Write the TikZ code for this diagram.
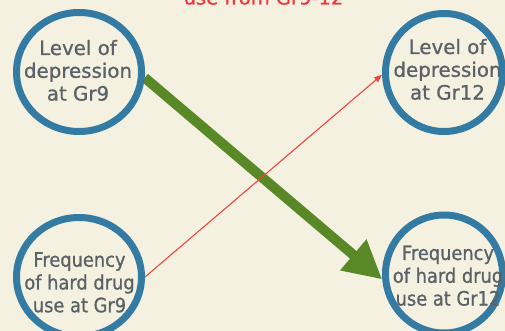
\documentclass[tikz,border=0pt]{standalone}
\usepackage{fontspec}
\setmainfont{DejaVu Sans}
\newfontfamily\lblfont[FakeBold=0.9]{DejaVu Sans}
\newfontfamily\condfont[FakeStretch=0.9,FakeBold=0.9]{DejaVu Sans}
\usetikzlibrary{arrows.meta,shapes.geometric}
\definecolor{bgcream}{RGB}{245,241,225}
\definecolor{ringblue}{RGB}{52,123,163}
\definecolor{txtgray}{RGB}{90,98,104}
\definecolor{arrowgreen}{RGB}{88,137,38}
\definecolor{arrowred}{RGB}{242,67,60}
\definecolor{titlered}{RGB}{236,55,62}
\pgfdeclarelayer{behind}
\pgfsetlayers{behind,main}
\begin{document}
\begin{tikzpicture}[x=1pt,y=-1pt,
  ring/.style={ellipse, draw=ringblue, line width=7pt, inner sep=0pt},
  lbl/.style={text=txtgray, align=center, font=\lblfont\fontsize{19.8}{22.8}\selectfont, inner sep=0pt},
  lblc/.style={lbl, font=\condfont\fontsize{19.8}{22.8}\selectfont},
  greenarrow/.style={draw=arrowgreen, line width=10pt, -{Triangle[length=38pt,width=38pt]}},
  redarrow/.style={draw=arrowred, line width=1.1pt, -{Triangle[length=8pt,width=6pt]}}]
\useasboundingbox (0,0) rectangle (505,331);
\clip (0,0) rectangle (505,331);
% circles
\node[ring, minimum width=125pt, minimum height=119pt] (d9) at (79,72) {};
\node[ring, minimum width=117pt, minimum height=118pt] (d12) at (444,72.5) {};
\node[ring, minimum width=125pt, minimum height=119pt] (f9) at (79,277) {};
\node[ring, minimum width=117pt, minimum height=118pt] (f12) at (444,274) {};
% labels
\node[lbl] (d9t) at (78,70.4) {Level of\\depression\\at Gr9};
\node[lbl] (d12t) at (447.5,69.4) {Level of\\depression\\at Gr12};
\node[lblc] (f9t) at (79.5,282.4) {Frequency\\of hard drug\\use at Gr9};
\node[lblc] (f12t) at (448,275.7) {Frequency\\of hard drug\\use at Gr12};
% title (clipped at top, as in the reference)
\node[text=titlered, anchor=base, font=\lblfont\fontsize{19.5}{22.8}\selectfont, inner sep=0pt] (title) at (263.5,4.5) {use from Gr9-12};
\begin{pgfonlayer}{behind}
\fill[bgcream] (0,0) rectangle (505,331);
\draw[greenarrow] (d9.-5) -- (f12.185);
\draw[redarrow] (f9.east) -- (d12.182);
\end{pgfonlayer}
\end{tikzpicture}
\end{document}
